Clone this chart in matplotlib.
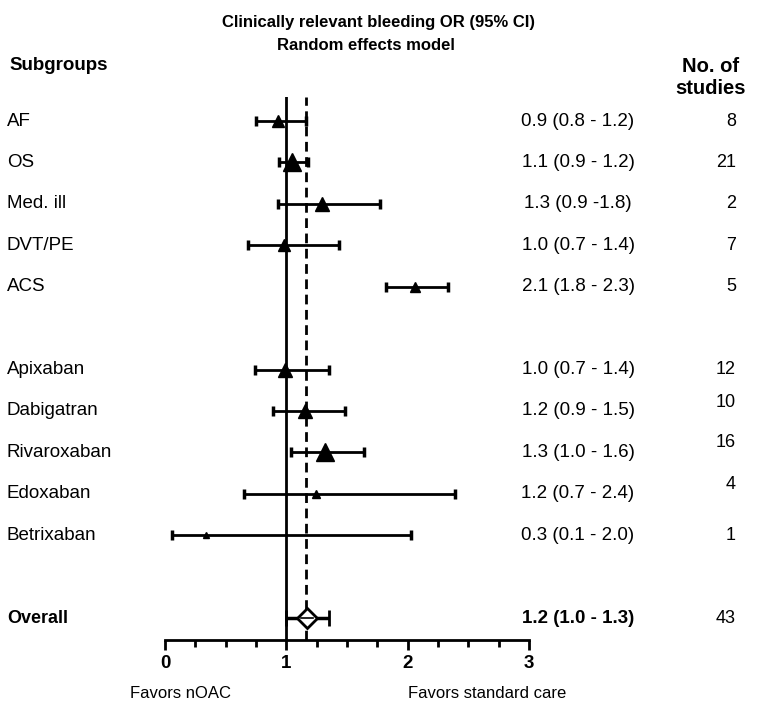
import matplotlib
matplotlib.use("Agg")
import matplotlib.pyplot as plt
import matplotlib.transforms as mtransforms
from matplotlib import font_manager

# ---------------- data ----------------
subgroups = ["AF", "OS", "Med. ill", "DVT/PE", "ACS",
             "Apixaban", "Dabigatran", "Rivaroxaban", "Edoxaban", "Betrixaban"]
odds_ratio = [0.93, 1.05, 1.29, 0.98, 2.06, 0.99, 1.15, 1.32, 1.245, 0.335]
ci_low = [0.75, 0.94, 0.93, 0.68, 1.82, 0.74, 0.89, 1.04, 0.65, 0.055]
ci_high = [1.16, 1.18, 1.77, 1.43, 2.33, 1.35, 1.48, 1.64, 2.39, 2.03]
estimate_labels = ["0.9 (0.8 - 1.2)", "1.1 (0.9 - 1.2)", "1.3 (0.9 -1.8)",
                   "1.0 (0.7 - 1.4)", "2.1 (1.8 - 2.3)", "1.0 (0.7 - 1.4)",
                   "1.2 (0.9 - 1.5)", "1.3 (1.0 - 1.6)", "1.2 (0.7 - 2.4)",
                   "0.3 (0.1 - 2.0)"]
n_studies = ["8", "21", "2", "7", "5", "12", "10", "16", "4", "1"]

overall_label = "Overall"
overall_or = 1.17
overall_low = 1.0
overall_high = 1.35
overall_estimate = "1.2 (1.0 - 1.3)"
overall_n = "43"

x_ticks = [0, 1, 2, 3]

# ---------------- style / layout ----------------
rows = [0, 1, 2, 3, 4, 6, 7, 8, 9, 10]
overall_row = 12
marker_sizes = [9, 13, 10, 9, 7, 10, 10, 13, 6, 5]
count_offsets = [0, 0, 0, 0, 0, 0, -0.2, -0.25, -0.22, 0]

names = {f.name for f in font_manager.fontManager.ttflist}
base_font = "Liberation Sans" if "Liberation Sans" in names else "DejaVu Sans"
plt.rcParams["font.family"] = [base_font, "DejaVu Sans"]

W, H = 758, 705
fig = plt.figure(figsize=(W / 100, H / 100), dpi=100)
ax = fig.add_axes([165 / W, 1 - 640 / H, (529 - 165) / W, (640 - 97) / H])

ax.set_xlim(0, 3)
ax.set_ylim(12.53, -0.58)

for s in ["top", "right", "left"]:
    ax.spines[s].set_visible(False)
ax.spines["bottom"].set_linewidth(2)
ax.set_yticks([])
ax.set_xticks(x_ticks)
ax.set_xticks([i * 0.25 for i in range(13)], minor=True)
ax.tick_params(axis="x", which="major", length=7, width=2, direction="out",
               labelsize=13.5, pad=4)
ax.tick_params(axis="x", which="minor", length=5, width=2, direction="out")
for lab in ax.get_xticklabels():
    lab.set_fontweight("bold")

ax.axvline(1, color="black", lw=2, zorder=1)
ax.axvline(overall_or - 0.01, color="black", lw=2, ls=(0, (3.5, 2)), zorder=1)

for y, o, lo, hi, ms in zip(rows, odds_ratio, ci_low, ci_high, marker_sizes):
    ax.errorbar([o], [y], xerr=[[o - lo], [hi - o]], fmt="^", color="black",
                ms=ms, elinewidth=2, capsize=3.5, capthick=2.5, zorder=3,
                clip_on=False)

ax.errorbar([overall_or], [overall_row],
            xerr=[[overall_or - overall_low], [overall_high - overall_or]],
            fmt="D", mfc="white", mec="black", mew=2, color="black", ms=10,
            elinewidth=2.5, capsize=6, capthick=3, zorder=3, clip_on=False)
ax.plot([overall_or - 0.05, overall_or + 0.05], [overall_row, overall_row],
        color="black", lw=1.2, zorder=4)

blend = mtransforms.blended_transform_factory(fig.transFigure, ax.transData)
fs_lab = 13.5
fs_est = 13.5
fs_n = 13
for y, name, est, n, off in zip(rows, subgroups, estimate_labels, n_studies,
                                count_offsets):
    ax.text(7 / W, y, name, transform=blend, ha="left", va="center", fontsize=fs_lab)
    ax.text(578 / W, y, est, transform=blend, ha="center", va="center", fontsize=fs_est)
    ax.text(736 / W, y + off, n, transform=blend, ha="right", va="center", fontsize=fs_n)

ax.text(7 / W, overall_row, overall_label, transform=blend, ha="left",
        va="center", fontsize=13, fontweight="bold")
ax.text(578 / W, overall_row, overall_estimate, transform=blend, ha="center",
        va="center", fontsize=13.5, fontweight="bold")
ax.text(736 / W, overall_row, overall_n, transform=blend, ha="right",
        va="center", fontsize=fs_n)

# headers
fig.text(378 / W, 1 - 22 / H, "Clinically relevant bleeding OR (95% CI)",
         ha="center", va="center", fontsize=12, fontweight="bold")
fig.text(366 / W, 1 - 45 / H, "Random effects model", ha="center", va="center",
         fontsize=12, fontweight="bold")
fig.text(9 / W, 1 - 65 / H, "Subgroups", ha="left", va="center", fontsize=13.5,
         fontweight="bold")
fig.text(711 / W, 1 - 77 / H, "No. of\nstudies", ha="center", va="center",
         fontsize=14.5, fontweight="bold", linespacing=1.2)

fig.text(181 / W, 1 - 693 / H, "Favors nOAC", ha="center", va="center", fontsize=12)
fig.text(487 / W, 1 - 693 / H, "Favors standard care", ha="center", va="center",
         fontsize=12)

fig.savefig("out.png", dpi=100)
